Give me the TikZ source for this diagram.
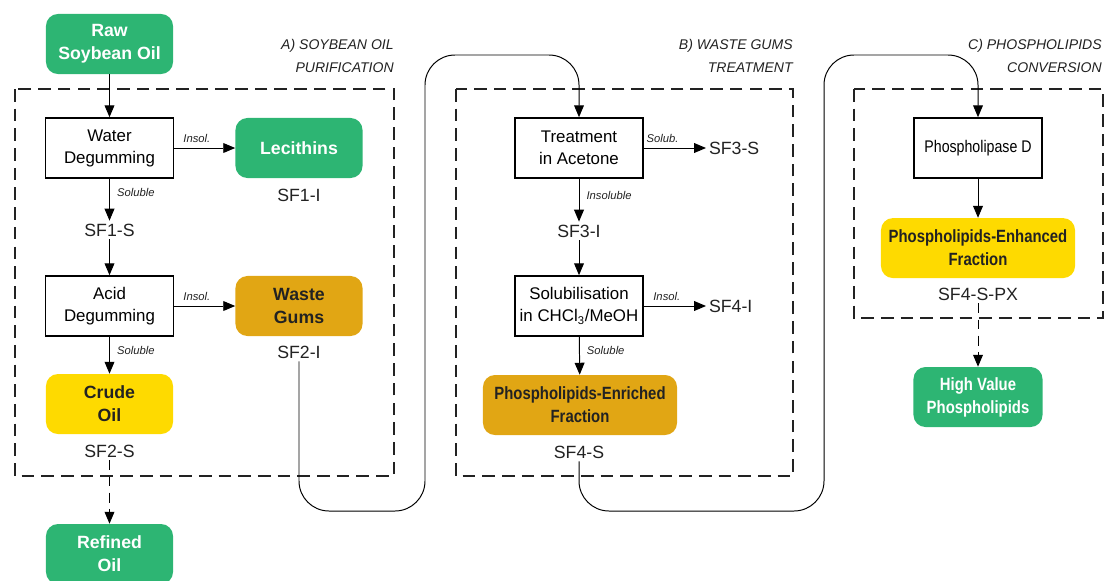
\documentclass[tikz,border=0pt]{standalone}
\usepackage{fontspec}
\setmainfont{Liberation Sans}
\newfontfamily\narrowfont[FakeStretch=0.84]{Liberation Sans}
\usepackage{tikz}
\usetikzlibrary{positioning,arrows.meta}
\usepackage{xcolor}
\definecolor{leafgreen}{HTML}{2DB573}
\definecolor{gumgold}{HTML}{E1A614}
\definecolor{oilyellow}{HTML}{FEDA00}
\definecolor{inkgray}{HTML}{222222}

\begin{document}
\begin{tikzpicture}[%
    x=0.025cm,
    y=-0.025cm,
    >={Triangle[length=8.5pt,width=7pt]},
    flow/.style={->, line width=0.7pt},
    loop/.style={->, line width=0.7pt, rounded corners=0.75cm},
    dashflow/.style={->, line width=0.7pt, dash pattern=on 7pt off 4.5pt},
    region/.style={line width=0.9pt, dash pattern=on 9pt off 5pt, inkgray},
    process/.style={%
      rectangle,
      draw,
      line width=1.1pt,
      fill=white,
      minimum width=3.2cm,
      minimum height=1.5cm,
      align=center,
      font=\fontsize{12}{15.6}\selectfont
    },
    product/.style={%
      rectangle,
      rounded corners=0.3cm,
      minimum width=3.175cm,
      minimum height=1.5cm,
      align=center,
      text=inkgray,
      font=\fontsize{12.6}{16.3}\selectfont\bfseries
    },
    narrowproduct/.style={%
      product,
      minimum width=4.85cm,
      font=\narrowfont\fontsize{12.6}{16.3}\selectfont\bfseries
    },
    tag/.style={inner sep=2pt, text=inkgray, font=\fontsize{12.6}{15}\selectfont},
    lbl/.style={inner sep=2pt, text=inkgray, font=\fontsize{8}{9}\selectfont\itshape},
    title/.style={inner sep=0pt, align=right, text=inkgray, font=\fontsize{10}{16.3}\selectfont\itshape}
  ]
    \useasboundingbox (0,0) rectangle (1104,580);

    \draw[region] (15,89) rectangle (394,476);
    \draw[region] (456,89) rectangle (793,476);
    \draw[region] (854,89) rectangle (1103,318);

    \node[title, anchor=north east] (titleA) at (394,39)  {A) SOYBEAN OIL\\PURIFICATION};
    \node[title, anchor=north east] (titleB) at (793,39)  {B) WASTE GUMS\\TREATMENT};
    \node[title, anchor=north east] (titleC) at (1102,39) {C) PHOSPHOLIPIDS\\CONVERSION};

    \node[product, fill=leafgreen, text=white] (raw)      at (109.5,44)  {Raw\\Soybean Oil};
    \node[process]                             (water)    at (109.5,148) {Water\\Degumming};
    \node[product, fill=leafgreen, text=white] (lec)      at (299,148)   {Lecithins};
    \node[tag]                                 (sf1i)     at (299,195)   {SF1-I};
    \node[tag]                                 (sf1s)     at (109.5,230) {SF1-S};
    \node[process]                             (acid)     at (109.5,306) {Acid\\Degumming};
    \node[product, fill=gumgold]               (gums)     at (299,306)   {Waste\\Gums};
    \node[tag]                                 (sf2i)     at (299,352)   {SF2-I};
    \node[product, fill=oilyellow]             (crude)    at (109.5,404) {Crude\\Oil};
    \node[tag]                                 (sf2s)     at (109.5,451) {SF2-S};
    \node[product, fill=leafgreen, text=white] (refined)  at (109.5,554) {Refined\\Oil};

    \node[process]                             (treat)    at (579,148)   {Treatment\\in Acetone};
    \node[tag, anchor=west]                    (sf3s)     at (706,148)   {SF3-S};
    \node[tag]                                 (sf3i)     at (579,231)   {SF3-I};
    \node[process]                             (solub)    at (579,306)   {Solubilisation\\in CHCl\textsubscript{3}/MeOH};
    \node[tag, anchor=west]                    (sf4i)     at (706,306)   {SF4-I};
    \node[narrowproduct, fill=gumgold]         (enriched) at (580,405)   {Phospholipids-Enriched\\Fraction};
    \node[tag]                                 (sf4s)     at (579,452)   {SF4-S};

    \node[process, font=\narrowfont\fontsize{12}{15.6}\selectfont] (phosd) at (978,148) {Phospholipase D};
    \node[narrowproduct, fill=oilyellow]       (enhanced) [below=0.975cm of phosd] {Phospholipids-Enhanced\\Fraction};
    \node[tag]                                 (sf4spx)   at (978,294)   {SF4-S-PX};
    \node[narrowproduct, fill=leafgreen, text=white, minimum width=3.225cm] (high) at (978,397) {High Value\\Phospholipids};

    \coordinate (lowA) at (425,511);
    \coordinate (topA) at (425,55);
    \coordinate (lowB) at (824,511);
    \coordinate (topB) at (824,55);

    \draw[flow] (raw) -- (water);
    \draw[flow] (water) -- node[lbl, above=1.5pt, pos=0.37] {Insol.} (lec);
    \draw[flow] (water) -- node[lbl, right=3pt, pos=0.33] {Soluble} (sf1s);
    \draw[flow] (sf1s) -- (acid);
    \draw[flow] (acid) -- node[lbl, above=1.5pt, pos=0.37] {Insol.} (gums);
    \draw[flow] (acid) -- node[lbl, right=3pt, pos=0.37] {Soluble} (crude);
    \draw[dashflow] (sf2s) -- (refined);

    \draw[flow] (treat) -- node[lbl, above=1.5pt, pos=0.3] {Solub.} (sf3s);
    \draw[flow] (treat) -- node[lbl, right=3pt, pos=0.38] {Insoluble} (sf3i);
    \draw[flow] (sf3i) -- (solub);
    \draw[flow] (solub) -- node[lbl, above=1.5pt, pos=0.37] {Insol.} (sf4i);
    \draw[flow] (solub) -- node[lbl, right=3pt, pos=0.37] {Soluble} (enriched);

    \draw[flow] (phosd) -- (enhanced);
    \draw[dashflow] (sf4spx) -- (high);

    \draw[loop] (sf2i.south) |- (lowA) -- (topA) -| (treat.north);
    \draw[loop] (sf4s.south) |- (lowB) -- (topB) -| (phosd.north);
  \end{tikzpicture}
\end{document}
